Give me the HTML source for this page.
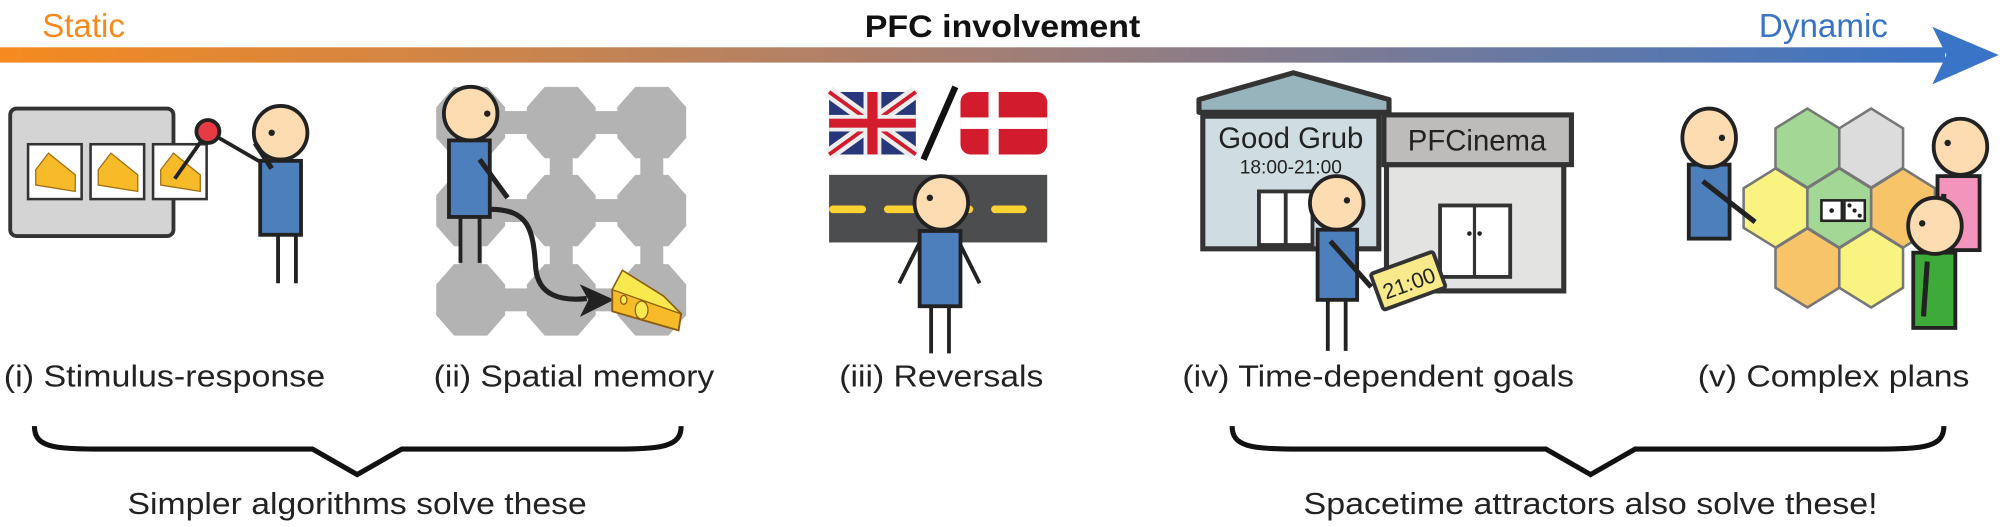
<!DOCTYPE html>
<html><head><meta charset="utf-8"><style>html,body{margin:0;padding:0;background:#fff}svg{display:block}</style></head><body>
<svg width="2000" height="527" viewBox="0 0 1568 413" xmlns="http://www.w3.org/2000/svg" font-family="Liberation Sans, Arial, sans-serif">
<defs>
<linearGradient id="g" x1="0" x2="1" y1="0" y2="0"><stop offset="0" stop-color="#f58a1f"/><stop offset="0.5" stop-color="#a57f74"/><stop offset="1" stop-color="#3a74c6"/></linearGradient>
<polygon id="oc" points="-13,-28 13,-28 27,-12 27,12 13,28 -13,28 -27,12 -27,-12"/>
<polygon id="hx" points="0,-31 25,-15.5 25,15.5 0,31 -25,15.5 -25,-15.5"/>
</defs>
<text x="33" y="29" font-size="26" fill="#f58a1f">Static</text>
<text x="678" y="29" font-size="25" font-weight="bold" fill="#111" textLength="216" lengthAdjust="spacingAndGlyphs">PFC involvement</text>
<text x="1379" y="29" font-size="26" fill="#3a72c4">Dynamic</text>
<rect x="0" y="37" width="1525" height="12" fill="url(#g)"/>
<polygon points="1515,21 1567,43 1515,66 1526,43" fill="#3a74c6"/>

<!-- panel i -->
<rect x="8" y="85" width="128" height="100" rx="5" fill="#d4d4d4" stroke="#333" stroke-width="3"/>
<g stroke="#333" stroke-width="2" fill="#fff">
<rect x="22" y="113" width="42" height="43"/><rect x="71" y="113" width="42" height="43"/><rect x="120" y="113" width="42" height="43"/></g>
<g fill="#f7bb2a" stroke="#a07010" stroke-width="1">
<polygon points="28,133 38,120 59,137 59,150 28,145"/><polygon points="77,133 87,120 108,137 108,150 77,145"/><polygon points="126,133 136,120 157,137 157,150 126,145"/></g>
<line x1="137" y1="140" x2="163" y2="103" stroke="#222" stroke-width="3"/>
<line x1="163" y1="103" x2="213" y2="132" stroke="#222" stroke-width="3"/>
<circle cx="163" cy="103" r="9" fill="#e83a45" stroke="#222" stroke-width="3"/>
<g stroke="#222" stroke-width="3">
<line x1="218" y1="184" x2="218" y2="222"/><line x1="232" y1="184" x2="232" y2="222"/>
<rect x="204" y="126" width="32" height="58" fill="#4c7fbb"/>
<ellipse cx="220" cy="104" rx="21" ry="21" fill="#fcdcb0"/>
<line x1="200" y1="112" x2="213" y2="132" stroke-width="4"/></g>
<circle cx="213" cy="104" r="2.5" fill="#222"/>

<!-- panel ii grid -->
<g fill="#b3b3b3">
<rect x="369" y="87" width="142" height="18"/><rect x="369" y="156" width="142" height="18"/><rect x="369" y="226" width="142" height="18"/>
<rect x="360" y="96" width="18" height="139"/><rect x="431" y="96" width="18" height="139"/><rect x="502" y="96" width="18" height="139"/>
<use href="#oc" x="369" y="96"/><use href="#oc" x="440" y="96"/><use href="#oc" x="511" y="96"/>
<use href="#oc" x="369" y="165"/><use href="#oc" x="440" y="165"/><use href="#oc" x="511" y="165"/>
<use href="#oc" x="369" y="235"/><use href="#oc" x="440" y="235"/><use href="#oc" x="511" y="235"/>
</g>
<g stroke="#222" stroke-width="3">
<line x1="361" y1="170" x2="361" y2="206"/><line x1="376" y1="170" x2="376" y2="206"/>
<rect x="352" y="110" width="32" height="60" fill="#4c7fbb"/>
<ellipse cx="369" cy="89" rx="21" ry="21" fill="#fcdcb0"/>
<line x1="376" y1="125" x2="398" y2="155" stroke-width="4"/></g>
<circle cx="382" cy="89" r="2.5" fill="#222"/>
<path d="M384,164 C415,164 418,180 420,210 C422,232 440,236 460,234" fill="none" stroke="#222" stroke-width="4"/>
<polygon points="478,235 458,226 463,235 458,245" fill="#222" stroke="#222" stroke-width="3"/>
<polygon points="480,227 488,212 520,232 534,246 532,259 480,244" fill="#f7bb2a" stroke="#8a6010" stroke-width="1.5"/>
<polygon points="488,212 520,232 534,246 480,227" fill="#f9e94f" stroke="#8a6010" stroke-width="1"/>
<ellipse cx="503" cy="243" rx="5" ry="7" fill="#f9e94f" stroke="#8a6010"/>
<ellipse cx="489" cy="235" rx="2.5" ry="3.5" fill="#f9e94f" stroke="#8a6010"/>

<!-- panel iii -->
<g>
<rect x="650" y="72" width="68" height="49" rx="6" fill="#283779"/>
<g stroke="#eee" stroke-width="10"><line x1="650" y1="72" x2="718" y2="121"/><line x1="718" y1="72" x2="650" y2="121"/></g>
<g stroke="#d21c2e" stroke-width="3"><line x1="650" y1="72" x2="718" y2="121"/><line x1="718" y1="72" x2="650" y2="121"/></g>
<rect x="677" y="72" width="14" height="49" fill="#eee"/><rect x="650" y="90" width="68" height="13" fill="#eee"/>
<rect x="680" y="72" width="8" height="49" fill="#d21c2e"/><rect x="650" y="93" width="68" height="7" fill="#d21c2e"/>
</g>
<line x1="724" y1="125" x2="749" y2="68" stroke="#111" stroke-width="5"/>
<rect x="753" y="72" width="68" height="49" rx="8" fill="#d21c2e"/>
<rect x="775" y="72" width="8" height="49" fill="#fff"/><rect x="753" y="92" width="68" height="9" fill="#fff"/>
<rect x="650" y="137" width="171" height="53" fill="#4c4d4f"/>
<g stroke="#fad332" stroke-width="6" stroke-linecap="round"><line x1="653" y1="164" x2="676" y2="164"/><line x1="696" y1="164" x2="718" y2="164"/><line x1="738" y1="164" x2="760" y2="164"/><line x1="780" y1="164" x2="802" y2="164"/></g>
<g stroke="#222" stroke-width="3">
<line x1="721" y1="190" x2="705" y2="222"/><line x1="752" y1="190" x2="768" y2="222"/>
<line x1="730" y1="240" x2="730" y2="277"/><line x1="744" y1="240" x2="744" y2="277"/>
<rect x="721" y="181" width="32" height="59" fill="#4c7fbb"/>
<ellipse cx="738" cy="159" rx="21" ry="21" fill="#fcdcb0"/></g>
<circle cx="729" cy="155" r="2.5" fill="#222"/>

<!-- panel iv -->
<polygon points="940,88 940,78 1014,57 1089,78 1089,88" fill="#97b4bd" stroke="#333" stroke-width="4" stroke-linejoin="round"/>
<rect x="943" y="91" width="138" height="104" fill="#cfdde2" stroke="#333" stroke-width="4"/>
<text x="1012" y="116" font-size="23" text-anchor="middle" fill="#222">Good Grub</text>
<text x="1012" y="136" font-size="15" text-anchor="middle" fill="#222">18:00-21:00</text>
<rect x="987" y="150" width="42" height="42" fill="#fff" stroke="#333" stroke-width="3"/>
<line x1="1008" y1="150" x2="1008" y2="192" stroke="#333" stroke-width="3"/>
<rect x="1087" y="129" width="139" height="99" fill="#e3e3e2" stroke="#333" stroke-width="4"/>
<rect x="1085" y="90" width="147" height="39" fill="#bdbcbb" stroke="#333" stroke-width="4"/>
<text x="1158" y="118" font-size="23" text-anchor="middle" fill="#222">PFCinema</text>
<rect x="1129" y="161" width="55" height="56" fill="#fff" stroke="#333" stroke-width="3"/>
<line x1="1156" y1="161" x2="1156" y2="217" stroke="#333" stroke-width="2.5"/>
<circle cx="1152" cy="183" r="1.8" fill="#222"/><circle cx="1160" cy="183" r="1.8" fill="#222"/>
<g stroke="#222" stroke-width="3">
<line x1="1041" y1="235" x2="1041" y2="275"/><line x1="1055" y1="235" x2="1055" y2="275"/>
<rect x="1033" y="180" width="31" height="55" fill="#4c7fbb"/>
<ellipse cx="1048" cy="159" rx="21" ry="21" fill="#fcdcb0"/>
<line x1="1043" y1="189" x2="1075" y2="225" stroke-width="4"/></g>
<circle cx="1056" cy="157" r="2.5" fill="#222"/>
<g transform="rotate(-20 1104 220)">
<rect x="1078" y="205" width="52" height="30" rx="2" fill="#f8e98a" stroke="#333" stroke-width="3"/>
<text x="1104" y="228" font-size="17" text-anchor="middle" fill="#222">21:00</text></g>

<!-- panel v -->
<g stroke="#777" stroke-width="2">
<use href="#hx" x="1417" y="116" fill="#a3d795"/><use href="#hx" x="1467" y="116" fill="#dcdcdc"/>
<use href="#hx" x="1392" y="163" fill="#f9f481"/><use href="#hx" x="1442" y="163" fill="#a3d795"/><use href="#hx" x="1492" y="163" fill="#f8c46a"/>
<use href="#hx" x="1417" y="210" fill="#f8c46a"/><use href="#hx" x="1467" y="210" fill="#f9f481"/>
</g>
<rect x="1428" y="157" width="16" height="16" fill="#fff" stroke="#222" stroke-width="2"/>
<rect x="1446" y="157" width="16" height="16" fill="#fff" stroke="#222" stroke-width="2"/>
<circle cx="1436" cy="165" r="1.8" fill="#222"/><circle cx="1450" cy="161" r="1.6" fill="#222"/><circle cx="1454" cy="165" r="1.6" fill="#222"/><circle cx="1458" cy="169" r="1.6" fill="#222"/>
<g stroke="#222" stroke-width="3">
<rect x="1324" y="129" width="32" height="58" fill="#4c7fbb"/>
<ellipse cx="1340" cy="108" rx="21" ry="23" fill="#fcdcb0"/>
<line x1="1335" y1="142" x2="1376" y2="174" stroke-width="4"/>
<rect x="1519" y="138" width="33" height="58" fill="#f294bc"/>
<ellipse cx="1537" cy="115" rx="21" ry="22" fill="#fcdcb0"/>
<line x1="1524" y1="152" x2="1522" y2="180" stroke-width="4"/>
<rect x="1500" y="198" width="33" height="59" fill="#3daa3a"/>
<ellipse cx="1517" cy="177" rx="21" ry="22" fill="#fcdcb0"/>
<line x1="1511" y1="205" x2="1508" y2="248" stroke-width="4"/></g>
<circle cx="1350" cy="108" r="2.5" fill="#222"/><circle cx="1527" cy="112" r="2.5" fill="#222"/><circle cx="1507" cy="175" r="2.5" fill="#222"/>

<!-- labels -->
<g font-size="24" fill="#222">
<text x="3" y="303" textLength="252" lengthAdjust="spacingAndGlyphs">(i) Stimulus-response</text>
<text x="340" y="303" textLength="220" lengthAdjust="spacingAndGlyphs">(ii) Spatial memory</text>
<text x="658" y="303" textLength="160" lengthAdjust="spacingAndGlyphs">(iii) Reversals</text>
<text x="927" y="303" textLength="307" lengthAdjust="spacingAndGlyphs">(iv) Time-dependent goals</text>
<text x="1331" y="303" textLength="213" lengthAdjust="spacingAndGlyphs">(v) Complex plans</text>
<text x="100" y="403" textLength="360" lengthAdjust="spacingAndGlyphs">Simpler algorithms solve these</text>
<text x="1022" y="403" textLength="450" lengthAdjust="spacingAndGlyphs">Spacetime attractors also solve these!</text>
</g>
<g fill="none" stroke="#111" stroke-width="4" stroke-linejoin="miter">
<path d="M27,334 C27,350 40,352 80,352 L245,352 L280,372 L315,352 L480,352 C520,352 534,350 534,334"/>
<path d="M966,334 C966,350 980,352 1020,352 L1212,352 L1247,372 L1282,352 L1470,352 C1510,352 1524,350 1524,334"/>
</g>
</svg>
</body></html>
